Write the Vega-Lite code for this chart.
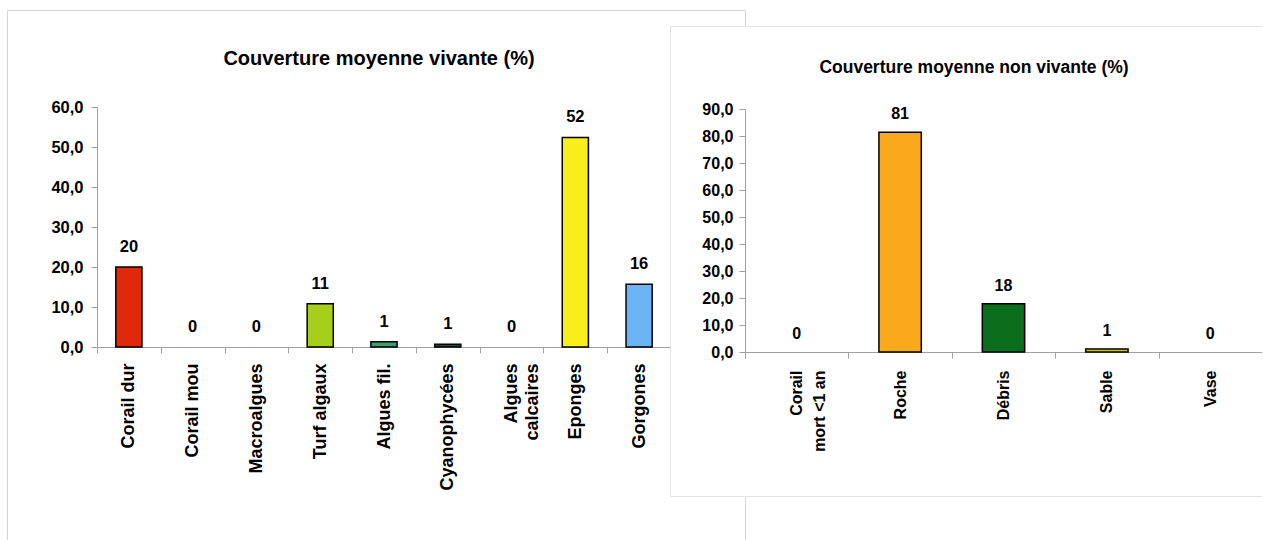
{
  "$schema": "https://vega.github.io/schema/vega-lite/v6.json",
  "background": "white",
  "padding": {"left": -3, "top": 9, "right": -3, "bottom": -3},
  "spacing": -75,
  "bounds": "flush",
  "align": "none",
  "datasets": {
    "vivante": [
      {"categorie": "Corail dur", "couverture": 20.0},
      {"categorie": "Corail mou", "couverture": 0},
      {"categorie": "Macroalgues", "couverture": 0},
      {"categorie": "Turf algaux", "couverture": 10.8},
      {"categorie": "Algues fil.", "couverture": 1.3},
      {"categorie": "Cyanophycées", "couverture": 0.7},
      {"categorie": "Algues calcaires", "couverture": 0},
      {"categorie": "Eponges", "couverture": 52.4},
      {"categorie": "Gorgones", "couverture": 15.7}
    ],
    "nonvivante": [
      {"categorie": "Corail mort <1 an", "couverture": 0},
      {"categorie": "Roche", "couverture": 81.4},
      {"categorie": "Débris", "couverture": 17.9},
      {"categorie": "Sable", "couverture": 1.1},
      {"categorie": "Vase", "couverture": 0}
    ]
  },
  "config": {
    "font": "Liberation Sans",
    "axis": {
      "grid": false,
      "title": null,
      "domainColor": "#a0a0a0",
      "tickColor": "#a0a0a0",
      "labelColor": "black",
      "labelFontWeight": "bold",
      "labelFont": "Liberation Sans",
      "tickSize": 6
    }
  },
  "resolve": {"scale": {"color": "shared"}},
  "hconcat": [
    {
      "width": 738,
      "height": 532,
      "view": {"stroke": "#d4d4d4", "strokeWidth": 1, "fill": "white"},
      "title": {
        "text": "Couverture moyenne vivante (%)",
        "font": "Liberation Sans",
        "fontSize": 20,
        "fontWeight": "bold",
        "color": "black",
        "anchor": "middle",
        "frame": "group",
        "baseline": "middle",
        "offset": -69,
        "dx": 3
      },
      "data": {"name": "vivante"},
      "encoding": {
        "x": {
          "field": "categorie",
          "type": "nominal",
          "sort": ["Corail dur", "Corail mou", "Macroalgues", "Turf algaux", "Algues fil.", "Cyanophycées", "Algues calcaires", "Eponges", "Gorgones"],
          "scale": {"range": [90, 664], "paddingInner": 0, "paddingOuter": 0},
          "axis": {
            "offset": -195,
            "labelAngle": -90,
            "tickBand": "extent",
            "labelExpr": "datum.value == 'Algues calcaires' ? ['Algues', 'calcaires'] : datum.label",
            "labelLineHeight": 21,
            "labelFontSize": 18,
            "labelPadding": 10
          }
        },
        "y": {
          "field": "couverture",
          "type": "quantitative",
          "scale": {"domain": [0, 60], "range": [337, 97], "nice": false, "zero": true},
          "axis": {
            "offset": -90,
            "values": [0, 10, 20, 30, 40, 50, 60],
            "labelExpr": "replace(format(datum.value, '.1f'), '.', ',')",
            "labelFontSize": 16.5,
            "labelPadding": 8
          }
        }
      },
      "layer": [
        {
          "transform": [{"filter": "datum.couverture > 0"}],
          "mark": {"type": "bar", "stroke": "black", "strokeWidth": 1.5, "width": {"band": 0.41}},
          "encoding": {
            "color": {
              "field": "categorie",
              "type": "nominal",
              "legend": null,
              "scale": {
                "domain": ["Corail dur", "Corail mou", "Macroalgues", "Turf algaux", "Algues fil.", "Cyanophycées", "Algues calcaires", "Eponges", "Gorgones", "Corail mort <1 an", "Roche", "Débris", "Sable", "Vase"],
                "range": ["#e0290b", "#c0c0c0", "#c0c0c0", "#a6ce1a", "#3e9e6e", "#1c4a3a", "#c0c0c0", "#f7ee1a", "#6bb5f7", "#c0c0c0", "#f9a91b", "#0b6e1c", "#d4c320", "#c0c0c0"]
              }
            }
          }
        },
        {
          "mark": {"type": "text", "dy": -20, "baseline": "middle", "font": "Liberation Sans", "fontSize": 16.5, "fontWeight": "bold", "color": "black"},
          "encoding": {"text": {"field": "couverture", "type": "quantitative", "format": ".0f"}}
        }
      ]
    },
    {
      "spacing": 14,
      "vconcat": [
        {
          "width": 1,
          "height": 1,
          "view": {"stroke": null, "fill": null},
          "data": {"values": []},
          "mark": "point"
        },
        {
          "width": 594,
          "height": 470,
          "view": {"stroke": "#e3e3e3", "strokeWidth": 1, "fill": "white"},
          "title": {
            "text": "Couverture moyenne non vivante (%)",
            "font": "Liberation Sans",
            "fontSize": 17.5,
            "fontWeight": "bold",
            "color": "black",
            "anchor": "middle",
            "frame": "group",
            "baseline": "middle",
            "offset": -59,
            "dx": 7
          },
          "data": {"name": "nonvivante"},
          "encoding": {
            "x": {
              "field": "categorie",
              "type": "nominal",
              "sort": ["Corail mort <1 an", "Roche", "Débris", "Sable", "Vase"],
              "scale": {"range": [75, 592], "paddingInner": 0, "paddingOuter": 0},
              "axis": {
                "offset": -144,
                "labelAngle": -90,
                "tickBand": "extent",
                "labelExpr": "datum.value == 'Corail mort <1 an' ? ['Corail', 'mort <1 an'] : datum.label",
                "labelLineHeight": 23,
                "labelFontSize": 16,
                "labelPadding": 12
              }
            },
            "y": {
              "field": "couverture",
              "type": "quantitative",
              "scale": {"domain": [0, 90], "range": [326, 83], "nice": false, "zero": true},
              "axis": {
                "offset": -75,
                "values": [0, 10, 20, 30, 40, 50, 60, 70, 80, 90],
                "labelExpr": "replace(format(datum.value, '.1f'), '.', ',')",
                "labelFontSize": 16,
                "labelPadding": 6
              }
            }
          },
          "layer": [
            {
              "transform": [{"filter": "datum.couverture > 0"}],
              "mark": {"type": "bar", "stroke": "black", "strokeWidth": 1.5, "width": {"band": 0.41}},
              "encoding": {
                "color": {
                  "field": "categorie",
                  "type": "nominal",
                  "legend": null,
                  "scale": {
                    "domain": ["Corail dur", "Corail mou", "Macroalgues", "Turf algaux", "Algues fil.", "Cyanophycées", "Algues calcaires", "Eponges", "Gorgones", "Corail mort <1 an", "Roche", "Débris", "Sable", "Vase"],
                    "range": ["#e0290b", "#c0c0c0", "#c0c0c0", "#a6ce1a", "#3e9e6e", "#1c4a3a", "#c0c0c0", "#f7ee1a", "#6bb5f7", "#c0c0c0", "#f9a91b", "#0b6e1c", "#d4c320", "#c0c0c0"]
                  }
                }
              }
            },
            {
              "mark": {"type": "text", "dy": -18, "baseline": "middle", "font": "Liberation Sans", "fontSize": 16, "fontWeight": "bold", "color": "black"},
              "encoding": {"text": {"field": "couverture", "type": "quantitative", "format": ".0f"}}
            }
          ]
        }
      ]
    }
  ]
}
